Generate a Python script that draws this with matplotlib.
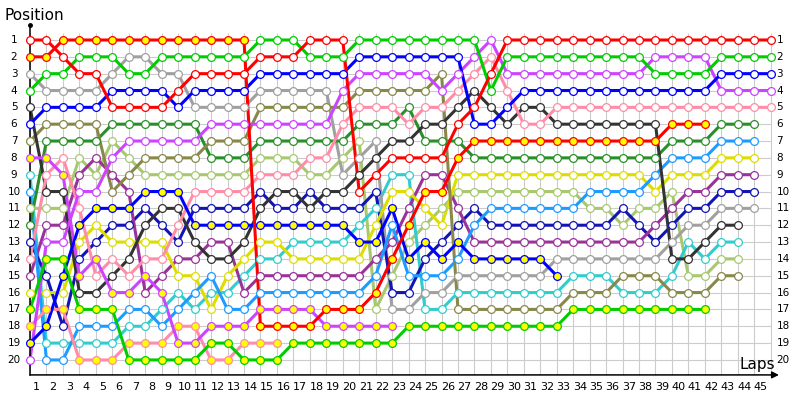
import numpy as np
import matplotlib.pyplot as plt

# race position at the end of each lap (index 0 = grid), one list per car
red_a = [1,1,2,3,3,5,5,5,5,4,3,3,3,3,2,2,2,1,1,1,10,9,8,8,8,8,6,5,3,1,1,1,1,1,1,1,1,1,1,1,1,1,1,1,1,1]
red_b = [2,2,1,1,1,1,1,1,1,1,1,1,1,1,18,18,18,18,17,17,17,16,14,12,10,10,8,7,7,7,7,7,7,7,7,7,7,7,7,6,6,6]
green_a = [4,3,3,2,2,2,3,3,2,2,2,2,2,2,1,1,1,2,2,2,1,1,1,1,1,1,1,1,4,2,2,2,2,2,2,2,2,2,3,3,3,3,2,2,2,2]
green_b = [17,14,14,17,17,17,20,20,20,20,20,19,19,20,20,20,19,19,19,19,19,19,19,18,18,18,18,18,18,18,18,18,18,17,17,17,17,17,17,17,17,17]
blue_a = [6,5,5,5,5,4,4,4,4,5,4,4,4,4,3,3,3,3,3,3,2,2,2,2,2,2,2,6,6,5,4,4,4,4,4,4,4,4,4,4,4,4,3,3,3,3]
blue_b = [19,18,15,12,11,11,11,10,10,10,12,12,12,12,12,12,12,12,12,12,13,13,11,14,13,14,13,14,14,14,14,14,15]
violet_a = [20,13,13,10,10,8,7,7,7,7,7,6,6,6,6,6,6,6,6,4,3,3,3,3,3,4,3,2,1,3,3,3,3,3,3,3,3,3,2,2,2,2,4,4,4,4]
violet_b = [8,8,9,15,14,16,16,15,16,19,19,18,18,18,17,17,17,17,18,18,18,18,18]
pink_a = [14,9,8,11,15,14,15,14,14,12,10,10,10,10,9,9,9,8,8,6,5,5,5,6,5,5,4,3,2,4,6,6,5,5,5,5,5,5,5,5,5,5,5,5,5,5]
pink_b = [18,17,17,20,20,20,19,19,19,18,18,20,20,19,19,19]
darkgray = [5,10,10,16,16,15,14,12,11,11,13,14,14,13,11,10,10,11,10,10,9,8,7,7,6,6,5,4,5,6,5,5,6,6,6,6,6,6,6,14,14,13,12,12]
olive = [7,6,6,6,6,10,9,8,8,8,8,7,7,7,5,5,5,5,5,5,4,4,4,4,4,3,17,17,17,17,17,17,17,16,16,16,15,15,15,16,16,16,15,15]
darkgreen = [12,7,7,7,7,6,6,6,6,6,6,8,8,8,7,7,7,7,7,7,6,6,6,5,7,7,7,8,8,8,8,8,8,8,8,8,8,8,8,7,7,7,6,6,6]
lightblue = [10,20,20,18,18,18,17,17,18,17,16,15,17,17,16,16,16,16,16,16,16,15,12,15,15,15,14,12,11,11,11,11,11,11,10,10,10,10,9,8,8,8,7,7,7]
yellow = [16,16,16,13,12,13,13,13,13,15,15,17,15,14,13,13,14,14,14,14,14,12,10,10,11,12,9,9,9,9,9,9,9,9,9,9,9,9,10,9,9,9,8,8,8]
purple = [15,12,12,9,8,9,10,16,15,14,14,13,13,16,15,15,15,15,15,15,15,14,13,11,9,9,11,13,13,13,13,13,13,13,13,13,13,13,12,11,10,10,9,9,9]
navy = [13,15,18,14,13,12,12,11,12,13,11,11,11,11,10,11,11,10,11,11,11,10,16,16,14,13,12,11,12,12,12,12,12,12,12,12,11,12,13,12,11,11,10,10,10]
gray = [3,4,4,4,4,3,2,2,3,3,5,5,5,5,4,4,4,4,4,9,8,7,17,17,16,16,15,15,15,15,15,15,14,14,14,14,14,14,14,13,12,12,11,11,11]
cyan = [9,19,19,19,19,19,18,18,17,16,17,16,16,15,14,14,13,13,13,13,12,11,9,9,17,17,16,16,16,16,16,16,16,15,15,15,16,16,16,15,13,14,13,13]
lightgreen = [11,11,11,8,9,7,8,9,9,9,9,9,9,9,8,8,8,9,9,8,7,17,15,13,12,11,10,10,10,10,10,10,10,10,11,11,12,11,11,10,15,15,14,14]

n_laps = 45
n_pos = 20

# (series, line colour, marker fill)
cars = [
    (lightgreen, '#a8c870', 'white'),
    (cyan, '#33cccc', 'white'),
    (gray, '#a0a0a0', 'white'),
    (navy, '#1414b4', 'white'),
    (purple, '#993399', 'white'),
    (yellow, '#dddd00', 'white'),
    (lightblue, '#1e9bff', 'white'),
    (darkgreen, '#2a8f2a', 'white'),
    (olive, '#88884a', 'white'),
    (darkgray, '#333333', 'white'),
    (pink_b, '#ff8ca8', 'yellow'),
    (pink_a, '#ff8ca8', 'white'),
    (violet_b, '#cc44ff', 'yellow'),
    (violet_a, '#cc44ff', 'white'),
    (blue_b, '#0000ff', 'yellow'),
    (blue_a, '#0000ff', 'white'),
    (green_b, '#00cc00', 'yellow'),
    (green_a, '#00cc00', 'white'),
    (red_b, '#ff0000', 'yellow'),
    (red_a, '#ff0000', 'white'),
]

fig = plt.figure(figsize=(8, 4), dpi=100)
ax = fig.add_axes([0, 0, 1, 1])
ax.set_xlim(-1.8226, 46.78)
ax.set_ylim(22.38, -1.375)
ax.axis('off')

bottom = 20.89
grid_c = '#cccccc'
ax.vlines(np.arange(0, n_laps + 1), 0.6, bottom, color=grid_c, lw=0.8, zorder=0)
ax.hlines(np.arange(1, n_pos + 1), 0, n_laps, color=grid_c, lw=0.8, zorder=0)

for pos, col, fill in cars:
    laps = np.arange(len(pos))
    ax.plot(laps, pos, '-', color=col, lw=2.2, solid_capstyle='round', zorder=2)
    ax.plot(laps, pos, 'o', ms=5.6, mfc=fill, mec=col, mew=0.9, zorder=3)

# axes with arrows
ax.annotate('', xy=(45.5, bottom), xytext=(0, bottom),
            arrowprops=dict(arrowstyle='-|>', color='black', lw=1.1, mutation_scale=10,
                            shrinkA=0, shrinkB=0))
ax.plot([0, 0], [bottom, 0.12], color='black', lw=1.1)
ax.plot([0], [0.12], marker='o', ms=2.5, color='black')

for p in range(1, n_pos + 1):
    ax.text(-0.97, p, str(p), ha='center', va='center', fontsize=7.5)
    ax.text(45.35, p, str(p), ha='left', va='center', fontsize=7.5)

for lap in range(1, n_laps + 1):
    ax.text(lap - 0.6, 21.6, str(lap), ha='center', va='center', fontsize=8)

ax.text(-1.55, -0.48, 'Position', ha='left', va='center', fontsize=11)
ax.text(44.2, 20.25, 'Laps', ha='center', va='center', fontsize=11)

fig.savefig('out.png', dpi=100)
